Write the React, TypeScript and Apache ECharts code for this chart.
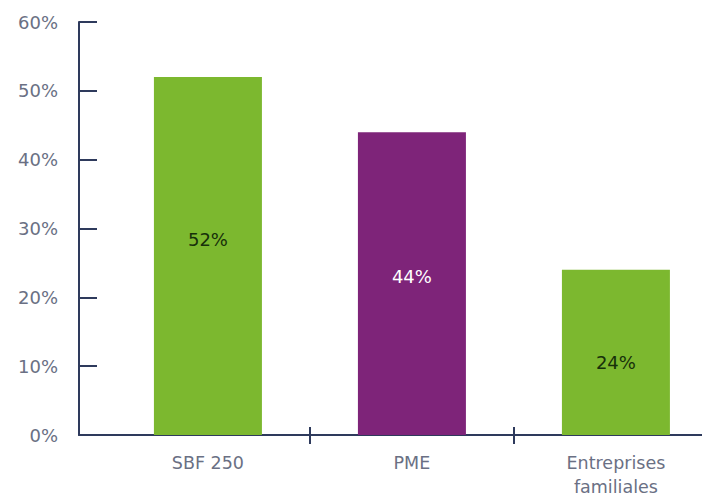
import React, { useEffect, useRef } from "react";
import * as echarts from "echarts";

const categories = ["SBF 250", "PME", "Entreprises\nfamiliales"];
const values = [52, 44, 24];
const barColors = ["#7cb82f", "#7e2479", "#7cb82f"];
const labelColors = ["#17300a", "#ffffff", "#17300a"];
const labelOffsets = [[0, -17], [0, -7], [0, 10]];
const yTicks = [0, 10, 20, 30, 40, 50, 60];

const AXIS = "#2e3a5c";
const TEXT = "#6a7084";
const FONT = "DejaVu Sans, Liberation Sans, sans-serif";

export default function App() {
  const ref = useRef<HTMLDivElement>(null);
  useEffect(() => {
    if (!ref.current) return;
    const chart = echarts.init(ref.current, undefined, { renderer: "svg" });
    const xMin = -0.632;
    const xMax = 2.422;
    const catPositions = categories.map((_, i) => i);
    const boundaries = categories.slice(1).map((_, i) => i + 0.5);
    chart.setOption({
      animation: false,
      backgroundColor: "#ffffff",
      grid: { left: 79, right: 0, top: 22, bottom: 65 },
      xAxis: [
        {
          type: "value",
          min: xMin,
          max: xMax,
          splitLine: { show: false },
          axisLine: { show: true, onZero: false, lineStyle: { color: AXIS, width: 2 } },
          axisTick: {
            show: true,
            customValues: boundaries,
            length: 9,
            lineStyle: { color: AXIS, width: 2 },
          },
          axisLabel: {
            show: true,
            customValues: catPositions,
            formatter: (v: number) => categories[Math.round(v)],
            color: TEXT,
            fontFamily: FONT,
            fontSize: 17.5,
            lineHeight: 24,
            margin: 16,
            verticalAlign: "top",
          },
        },
        {
          type: "value",
          min: xMin,
          max: xMax,
          position: "bottom",
          splitLine: { show: false },
          axisLine: { show: false, onZero: false },
          axisTick: {
            show: true,
            inside: true,
            customValues: boundaries,
            length: 8,
            lineStyle: { color: AXIS, width: 2 },
          },
          axisLabel: { show: false },
        },
      ],
      yAxis: {
        type: "value",
        min: 0,
        max: 60,
        interval: 10,
        splitLine: { show: false },
        axisLine: { show: true, onZero: false, lineStyle: { color: AXIS, width: 2 } },
        axisTick: { show: true, inside: true, length: 18, lineStyle: { color: AXIS, width: 2 } },
        axisLabel: {
          color: TEXT,
          fontFamily: FONT,
          fontSize: 18,
          margin: 21,
          formatter: (v: number) => (yTicks.includes(v) ? `${v}%` : ""),
        },
      },
      series: [
        {
          type: "bar",
          xAxisIndex: 0,
          barWidth: 108,
          data: values.map((v, i) => ({
            value: [i, v],
            itemStyle: { color: barColors[i] },
            label: { color: labelColors[i], offset: labelOffsets[i] },
          })),
          label: {
            show: true,
            position: "inside",
            fontFamily: FONT,
            fontSize: 18,
            formatter: (p: any) => `${p.value[1]}%`,
          },
        },
      ],
    });
    return () => chart.dispose();
  }, []);
  return <div ref={ref} style={{ width: 702, height: 500, position: "absolute", left: 0, top: 0 }} />;
}
